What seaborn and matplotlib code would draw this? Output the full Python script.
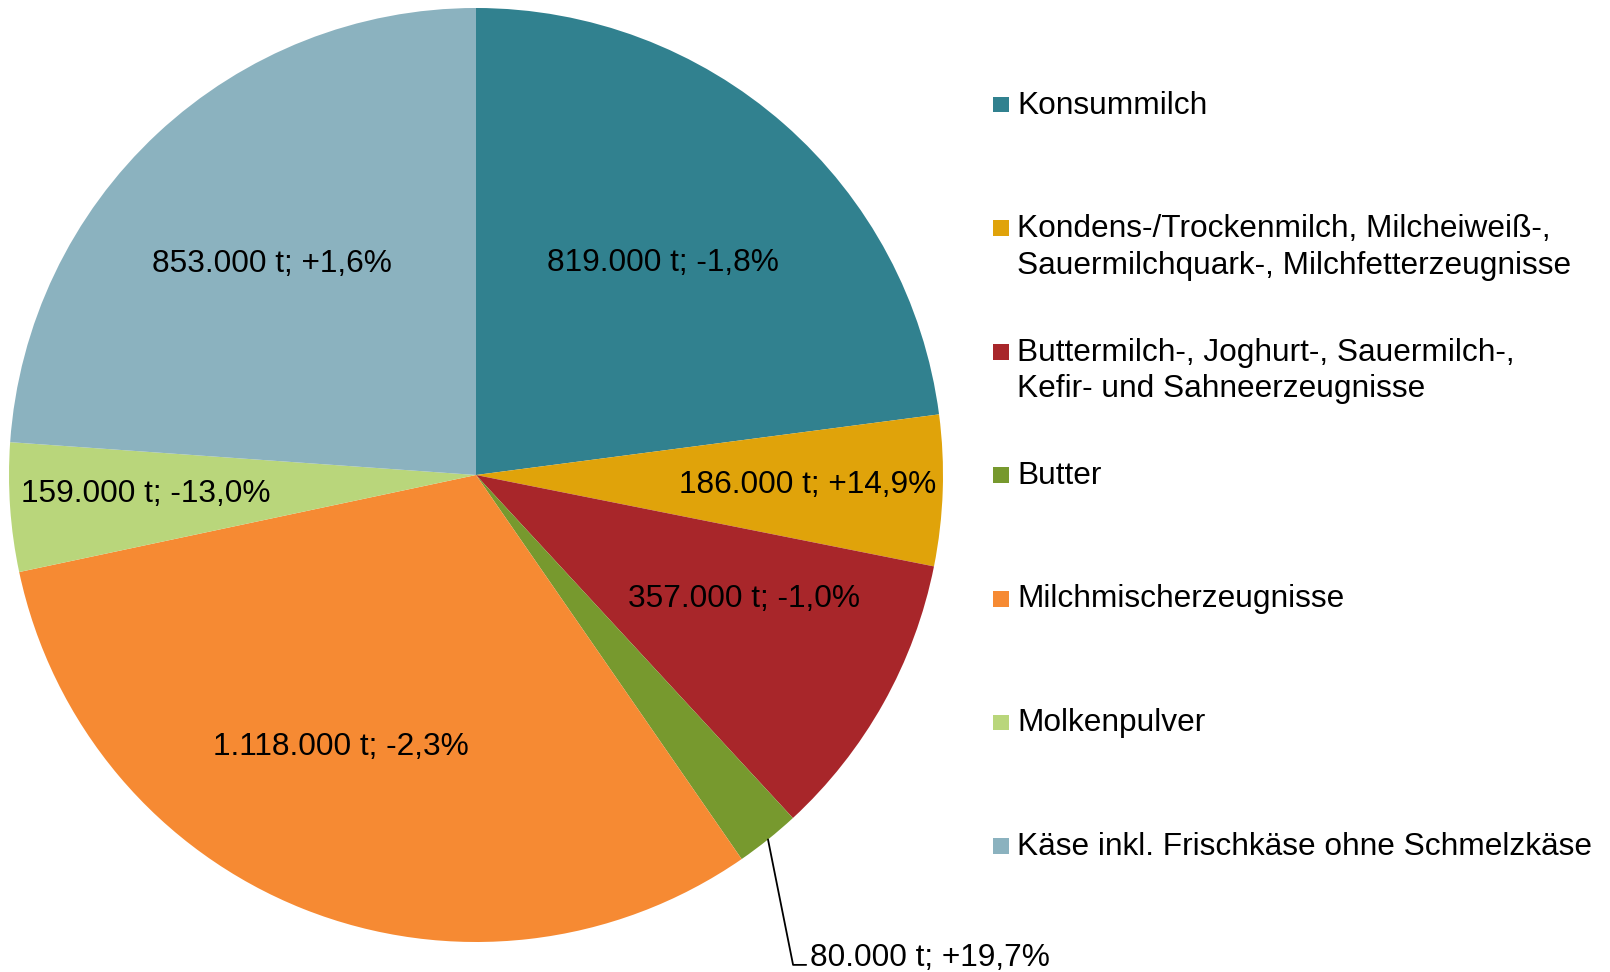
import numpy as np
import matplotlib.pyplot as plt
import matplotlib.patches as mpatches
import seaborn as sns

# data
categories = ["Konsummilch",
              "Kondens-/Trockenmilch, Milcheiweiß-,\nSauermilchquark-, Milchfetterzeugnisse",
              "Buttermilch-, Joghurt-, Sauermilch-,\nKefir- und Sahneerzeugnisse",
              "Butter",
              "Milchmischerzeugnisse",
              "Molkenpulver",
              "Käse inkl. Frischkäse ohne Schmelzkäse"]
tonnes = [819000, 186000, 357000, 80000, 1118000, 159000, 853000]
change_pct = [-1.8, 14.9, -1.0, 19.7, -2.3, -13.0, 1.6]
colors = ["#31818f", "#e0a30a", "#a8262a", "#77992e", "#f68a33", "#b9d67b", "#8bb2bf"]

# label placement (radius as fraction of pie radius, angle nudge in degrees)
label_radius = [0.61, 0.71, 0.63, None, 0.645, 0.708, 0.633]
label_nudge = [0.3, 0.7, 4.9, 0, -5.0, -1.1, 0.7]


def fmt_label(t, p):
    t_str = "{:,}".format(t).replace(",", ".")
    p_str = "{:+.1f}".format(p).replace(".", ",")
    return t_str + " t; " + p_str + "%"


sns.set_style("white")
plt.rcParams['font.family'] = ['Liberation Sans', 'DejaVu Sans']
plt.rcParams['text.color'] = 'black'
font_size = 22.8

fig = plt.figure(figsize=(16.1, 9.72), dpi=100)
ax = fig.add_axes([9 / 1610, 30 / 972, 934 / 1610, 934 / 972])

wedges, _ = ax.pie(tonnes, colors=colors, startangle=90, counterclock=False,
                   radius=1, wedgeprops=dict(linewidth=0, antialiased=True))
ax.set_xlim(-1, 1)
ax.set_ylim(-1, 1)
ax.set_aspect("equal")
ax.axis("off")

for i, w in enumerate(wedges):
    mid = np.deg2rad((w.theta1 + w.theta2) / 2)
    text = fmt_label(tonnes[i], change_pct[i])
    if label_radius[i] is None:
        # leader line to an outside label
        x0, y0 = np.cos(mid), np.sin(mid)
        ax.plot([x0, 0.679, 0.707], [y0, -1.049, -1.049], color="black",
                linewidth=1.3, clip_on=False)
        ax.text(0.716, -1.051, text, fontsize=font_size, ha="left", va="baseline",
                color="black", clip_on=False)
        continue
    a = mid + np.deg2rad(label_nudge[i])
    r = label_radius[i]
    ax.text(r * np.cos(a), r * np.sin(a) - 0.006, text, fontsize=font_size,
            ha="center", va="center", color="black")

# legend drawn by hand so the marker sits on the first line of each entry
W, H = 1610, 972
for i, name in enumerate(categories):
    base = 113.5 + 123.5 * i
    rect = mpatches.Rectangle((993 / W, 1 - (base - 1) / H), 16 / W, 15.5 / H,
                              transform=fig.transFigure, facecolor=colors[i],
                              edgecolor="none")
    fig.patches.append(rect)
    for j, line in enumerate(name.split("\n")):
        fig.text(1017 / W, 1 - (base + 37 * j) / H, line, fontsize=font_size,
                 ha="left", va="baseline", color="black")

fig.savefig("out.png", dpi=100)
